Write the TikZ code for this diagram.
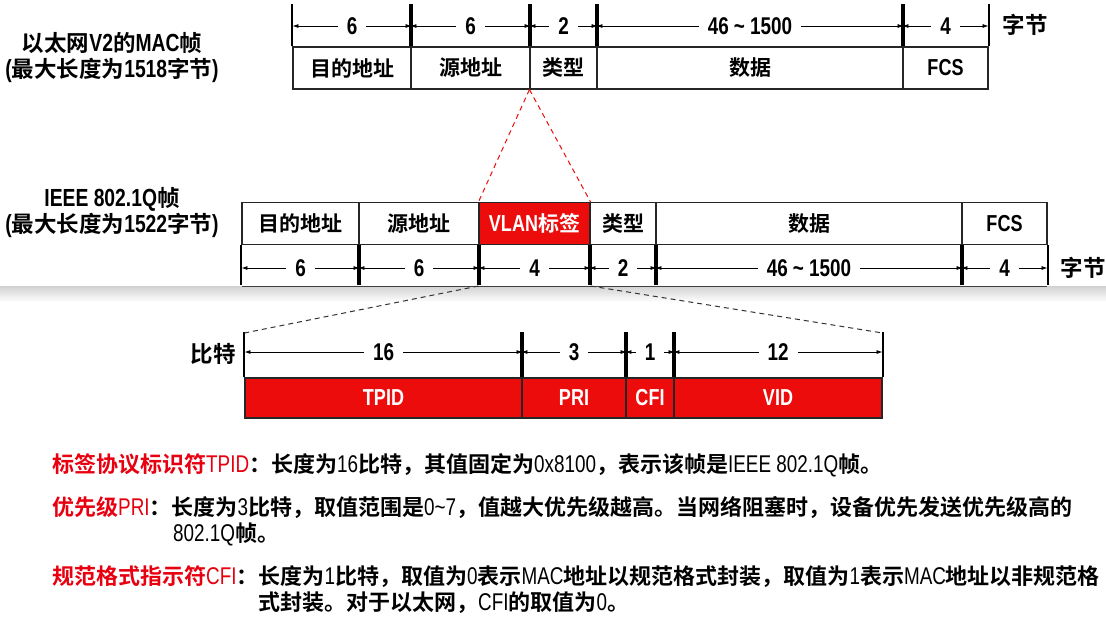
\documentclass[tikz,border=0pt]{standalone}
\usepackage{fontspec}
\setmainfont{Noto Sans CJK SC}[BoldFont={Noto Sans CJK SC Bold}]
\newfontfamily\narrowfont{Liberation Sans}[FakeStretch=0.78, Scale=1.1]
\newcommand{\lat}[1]{{\narrowfont\mdseries #1}}
\newcommand{\latb}[1]{{\narrowfont\bfseries #1}}
\usetikzlibrary{arrows.meta}
\definecolor{tagred}{RGB}{236,12,12}
\definecolor{txtred}{RGB}{232,0,16}

\tikzset{
  fld/.style={draw=black!85, line width=1.1pt, inner sep=0pt, minimum height=42pt, font=\bfseries\fontsize{21}{25}\selectfont},
  redfld/.style={fld, fill=tagred, text=white},
  tick/.style={line width=2pt},
  dim/.style={line width=0.8pt, {Latex[length=6pt,width=4pt]}-{Latex[length=6pt,width=4pt]}},
  num/.style={fill=white, inner xsep=9pt, inner ysep=1pt, font=\fontsize{22}{25}\selectfont},
  lbl/.style={font=\bfseries\fontsize{22.5}{26}\selectfont, align=center},
  para/.style={anchor=base west, inner sep=0pt, font=\bfseries\fontsize{22}{26}\selectfont},
  reddash/.style={tagred, line width=1pt, dash pattern=on 5pt off 4pt},
  blkdash/.style={black!80, line width=1pt, dash pattern=on 5pt off 4pt},
}

\begin{document}
\begin{tikzpicture}[x=1pt, y=-1pt]
  \fill[white] (0,0) rectangle (1106,619);
  \useasboundingbox (0,0) rectangle (1106,619);

  % slide edge under the 802.1Q frame
  \shade[top color=black!18, bottom color=white] (0,286) rectangle (1106,302);
  \draw[black!75, line width=1pt] (242,286) -- (1047,286);

  % Ethernet V2 frame
  \coordinate (v2row) at (0,26);
  \foreach \a/\b/\t/\n/\w in {293/411/目的地址/da/6, 411/530/源地址/sa/6, 530/597/类型/ty/2,
      597/903/数据/dt/{46 \textasciitilde\ 1500}, 903/988/\latb{FCS}/fcs/4}{
    \node[fld, minimum width=\b-\a] (v2\n) at ({(\a+\b)/2},68) {\t};
    \draw[tick] (v2\n.north west) -- ++(0,-42);
    \draw[tick] (v2\n.north east) -- ++(0,-42);
    \draw[dim] (v2\n.north west |- v2row) -- (v2\n.north east |- v2row) node[midway,num] {\latb{\w}};
  }
  \node[lbl] (v2unit) at (1025,25) {字节};
  \node[lbl] (v2name) at (112,58) {以太网\latb{V2}的\latb{MAC}帧\\\latb{(}最大长度为\latb{1518}字节\latb{)}};

  % IEEE 802.1Q frame
  \coordinate (qrow) at (0,268);
  \foreach \a/\b/\t/\n/\s/\w in {242/359/目的地址/da/fld/6, 359/479/源地址/sa/fld/6,
      479/590/{\latb{VLAN}标签}/tag/redfld/4, 590/656/类型/ty/fld/2,
      656/962/数据/dt/fld/{46 \textasciitilde\ 1500}, 962/1047/\latb{FCS}/fcs/fld/4}{
    \node[\s, minimum width=\b-\a] (q\n) at ({(\a+\b)/2},223.5) {\t};
    \draw[tick] (q\n.south west) -- ++(0,40);
    \draw[tick] (q\n.south east) -- ++(0,40);
    \draw[dim] (q\n.south west |- qrow) -- (q\n.south east |- qrow) node[midway,num] {\latb{\w}};
  }
  \node[lbl] (qunit) at (1083,268) {字节};
  \node[lbl] (qname) at (112,213) {\latb{IEEE 802.1Q}帧\\\latb{(}最大长度为\latb{1522}字节\latb{)}};

  % tag fields
  \coordinate (brow) at (0,352);
  \foreach \a/\b/\t/\n/\w in {245/522/TPID/tpid/16, 522/626/PRI/pri/3, 626/674/CFI/cfi/1, 674/882/VID/vid/12}{
    \node[redfld, minimum width=\b-\a, minimum height=40pt] (\n) at ({(\a+\b)/2},398) {\latb{\t}};
    \draw[tick] (\n.north west) -- ++(0,-45);
    \draw[tick] (\n.north east) -- ++(0,-45);
    \draw[dim] (\n.north west |- brow) -- (\n.north east |- brow) node[midway,num] {\latb{\w}};
  }
  \node[lbl] (bitunit) at (213,354) {比特};

  % zoom lines
  \draw[reddash] (v2ty.south west) -- (qtag.north west);
  \draw[reddash] (v2ty.south west) -- (qtag.north east);
  \coordinate (qbase) at (0,286);
  \coordinate (bittop) at (0,333);
  \draw[blkdash] (qtag.south west |- qbase) -- (tpid.north west |- bittop);
  \draw[blkdash] (qtag.south east |- qbase) -- (vid.north east |- bittop);

  % notes
  \node[para] (tpidtxt) at (52,472) {\textcolor{txtred}{标签协议标识符\lat{TPID}}：长度为\lat{16}比特，其值固定为\lat{0x8100}，表示该帧是\lat{IEEE 802.1Q}帧。};
  \node[para] (pritxt) at (52,515) {\textcolor{txtred}{优先级\lat{PRI}}：长度为\lat{3}比特，取值范围是\lat{0\textasciitilde 7}，值越大优先级越高。当网络阻塞时，设备优先发送优先级高的};
  \node[para] (pritxtb) at (173,541) {\lat{802.1Q}帧。};
  \node[para] (cfitxt) at (52,584) {\textcolor{txtred}{规范格式指示符\lat{CFI}}：长度为\lat{1}比特，取值为\lat{0}表示\lat{MAC}地址以规范格式封装，取值为\lat{1}表示\lat{MAC}地址以非规范格};
  \node[para] (cfitxtb) at (258,610) {式封装。对于以太网，\lat{CFI}的取值为\lat{0}。};
\end{tikzpicture}
\end{document}
